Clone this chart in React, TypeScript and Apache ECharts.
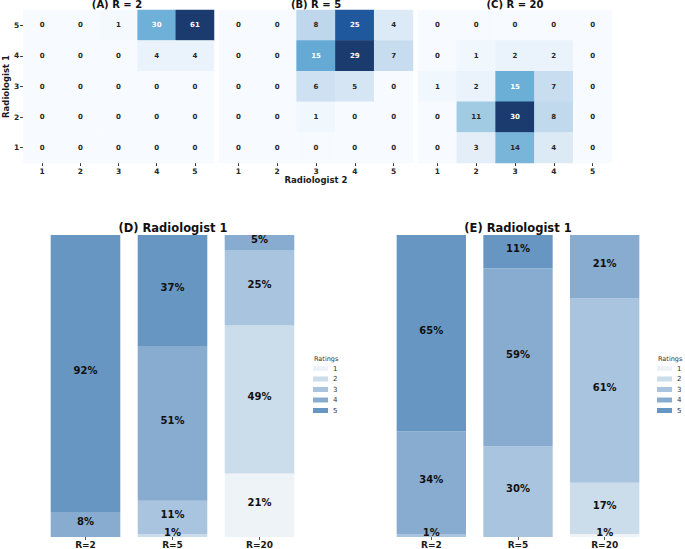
import React, { useEffect, useRef } from 'react';
import * as echarts from 'echarts';

const FONT = 'DejaVu Sans';
const ratings = ['1', '2', '3', '4', '5'];
const heatTitles = ['(A) R = 2', '(B) R = 5', '(C) R = 20'];

// rows: Radiologist 1 rating 5 (top) .. 1 (bottom); columns: Radiologist 2 rating 1..5
const matrixA = [
  [0, 0, 1, 30, 61],
  [0, 0, 0, 4, 4],
  [0, 0, 0, 0, 0],
  [0, 0, 0, 0, 0],
  [0, 0, 0, 0, 0],
];
const matrixB = [
  [0, 0, 8, 25, 4],
  [0, 0, 15, 29, 7],
  [0, 0, 6, 5, 0],
  [0, 0, 1, 0, 0],
  [0, 0, 0, 0, 0],
];
const matrixC = [
  [0, 0, 0, 0, 0],
  [0, 1, 2, 2, 0],
  [1, 2, 15, 7, 0],
  [0, 11, 30, 8, 0],
  [0, 3, 14, 4, 0],
];

const barCategories = ['R=2', 'R=5', 'R=20'];
// (D) percentages per rating 1..5, for R=2, R=5, R=20
const dRating1 = [0, 0, 21];
const dRating2 = [0, 1, 49];
const dRating3 = [0, 11, 25];
const dRating4 = [8, 51, 5];
const dRating5 = [92, 37, 0];
// (E)
const eRating1 = [0, 0, 1];
const eRating2 = [0, 0, 17];
const eRating3 = [1, 30, 61];
const eRating4 = [34, 59, 21];
const eRating5 = [65, 11, 0];

const ratingColors = ['#eef3f8', '#cbdcea', '#a9c4df', '#88abd0', '#6896c3'];
const blues = ['#f7fbff', '#deebf7', '#c6dbef', '#9ecae1', '#6baed6', '#4292c6', '#2b6fb0', '#1f559c', '#1b3a6e'];

const heatGrids = [
  { left: 20, top: 10, width: 194, height: 153 },
  { left: 219, top: 10, width: 194, height: 153 },
  { left: 418, top: 10, width: 194, height: 153 },
];

function heatData(m: number[][]) {
  const max = Math.max(...m.flat());
  const out: any[] = [];
  m.forEach((row, r) => {
    row.forEach((v, c) => {
      out.push({
        value: [c, 4 - r, v],
        label: { color: v / max > 0.48 ? '#ffffff' : '#262626' },
      });
    });
  });
  return out;
}

export default function App() {
  const ref = useRef<HTMLDivElement>(null);
  useEffect(() => {
    if (!ref.current) return;
    const chart = echarts.init(ref.current, undefined, { renderer: 'svg' });
    const matrices = [matrixA, matrixB, matrixC];

    const grids: any[] = [
      ...heatGrids,
      { left: 42, top: 235, width: 261, height: 302 },
      { left: 388, top: 235, width: 260, height: 302 },
    ];

    const xAxes: any[] = [];
    const yAxes: any[] = [];
    for (let i = 0; i < 3; i++) {
      xAxes.push({
        type: 'category',
        gridIndex: i,
        data: ratings,
        axisLine: { show: false },
        axisTick: { show: true, length: 3, alignWithLabel: true, lineStyle: { color: '#333' } },
        axisLabel: { fontSize: 7.5, fontWeight: 'bold', color: '#262626', margin: 4, fontFamily: FONT },
        splitLine: { show: false },
        name: i === 1 ? 'Radiologist 2' : '',
        nameLocation: 'middle',
        nameGap: 11,
        nameTextStyle: { fontSize: 8.5, fontWeight: 'bold', color: '#1a1a1a', fontFamily: FONT },
      });
      yAxes.push({
        type: 'category',
        gridIndex: i,
        data: ratings,
        axisLine: { show: false },
        axisTick: { show: i === 0, length: 3, alignWithLabel: true, lineStyle: { color: '#333' } },
        axisLabel: { show: i === 0, fontSize: 7.5, fontWeight: 'bold', color: '#262626', margin: 4, fontFamily: FONT },
        splitLine: { show: false },
        name: i === 0 ? 'Radiologist 1' : '',
        nameLocation: 'middle',
        nameRotate: 90,
        nameGap: 12,
        nameTextStyle: { fontSize: 8.5, fontWeight: 'bold', color: '#1a1a1a', fontFamily: FONT },
      });
    }
    for (let i = 3; i < 5; i++) {
      xAxes.push({
        type: 'category',
        gridIndex: i,
        data: barCategories,
        axisLine: { show: false },
        axisTick: { show: true, length: 3, alignWithLabel: true, lineStyle: { color: '#555' } },
        axisLabel: { fontSize: 9, fontWeight: 'bold', color: '#1a1a1a', margin: 3, fontFamily: FONT },
      });
      yAxes.push({ type: 'value', gridIndex: i, min: 0, max: 100, show: false, splitLine: { show: false } });
    }

    const series: any[] = matrices.map((m, i) => ({
      type: 'heatmap',
      xAxisIndex: i,
      yAxisIndex: i,
      data: heatData(m),
      label: {
        show: true,
        fontSize: 7,
        fontWeight: 'bold',
        fontFamily: FONT,
        formatter: (p: any) => String(p.value[2]),
      },
      emphasis: { disabled: true },
    }));

    const dSets = [dRating1, dRating2, dRating3, dRating4, dRating5];
    const eSets = [eRating1, eRating2, eRating3, eRating4, eRating5];
    const mkBars = (sets: number[][], axis: number, stack: string) =>
      sets.map((vals, k) => ({
        type: 'bar',
        name: ratings[k],
        stack,
        xAxisIndex: axis,
        yAxisIndex: axis,
        barWidth: '80%',
        data: vals,
        itemStyle: { color: ratingColors[k] },
        label: {
          show: true,
          position: 'inside',
          offset: [0, -3],
          fontSize: 10,
          fontWeight: 'bold',
          color: '#111',
          fontFamily: FONT,
          formatter: (p: any) => (p.value > 0 ? p.value + '%' : ''),
        },
        emphasis: { disabled: true },
      }));
    series.push(...mkBars(dSets, 3, 'D'), ...mkBars(eSets, 4, 'E'));

    const maxes = matrices.map((m) => Math.max(...m.flat()));
    const visualMaps = maxes.map((mx, i) => ({
      show: false,
      type: 'continuous',
      seriesIndex: i,
      dimension: 2,
      min: 0,
      max: mx,
      inRange: { color: blues },
    }));

    const legendBase = {
      orient: 'vertical',
      top: 360,
      padding: 5,
      itemWidth: 15,
      itemHeight: 5,
      itemGap: 3.5,
      icon: 'rect',
      selectedMode: false,
      data: ratings,
      textStyle: { fontSize: 7, color: '#333', fontFamily: FONT },
    };

    const titleTexts = [
      { x: 117, y: 4, text: heatTitles[0], size: 10 },
      { x: 316, y: 4, text: heatTitles[1], size: 10 },
      { x: 515, y: 4, text: heatTitles[2], size: 10 },
      { x: 173, y: 228, text: '(D) Radiologist 1', size: 11.5 },
      { x: 518, y: 228, text: '(E) Radiologist 1', size: 11.5 },
    ];

    chart.setOption({
      animation: false,
      textStyle: { fontFamily: FONT },
      grid: grids,
      xAxis: xAxes,
      yAxis: yAxes,
      visualMap: visualMaps,
      legend: [
        { ...legendBase, left: 308 },
        { ...legendBase, left: 652 },
      ],
      series,
      graphic: [
        ...titleTexts.map((t) => ({
          type: 'text',
          x: t.x,
          y: t.y,
          style: {
            text: t.text,
            fontSize: t.size,
            fontWeight: 'bold',
            fontFamily: FONT,
            fill: '#111',
            textAlign: 'center',
            textVerticalAlign: 'middle',
          },
        })),
        ...[314, 658].map((x) => ({
          type: 'text',
          x,
          y: 359,
          style: { text: 'Ratings', fontSize: 6.5, fontFamily: FONT, fill: '#333', textVerticalAlign: 'middle' },
        })),
      ],
    });
    return () => chart.dispose();
  }, []);
  return <div ref={ref} style={{ position: 'fixed', left: 0, top: 0, width: 685, height: 549, background: '#fff' }} />;
}
